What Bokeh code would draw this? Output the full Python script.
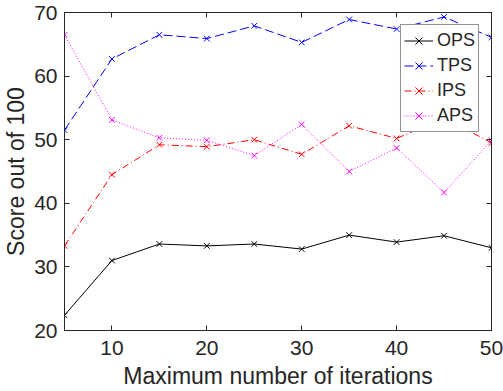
from bokeh.plotting import figure
from bokeh.models import Range1d, LinearAxis, FixedTicker, CustomJSTickFormatter
from bokeh.embed import file_html
from bokeh.resources import INLINE

iters = [5, 10, 15, 20, 25, 30, 35, 40, 45, 50]
ops = [22.4, 31.0, 33.6, 33.3, 33.6, 32.8, 35.0, 33.9, 34.9, 33.0]
tps = [51.5, 62.7, 66.5, 65.9, 67.9, 65.3, 68.9, 67.4, 69.3, 66.1]
ips = [33.3, 44.5, 49.2, 48.9, 50.0, 47.7, 52.2, 50.2, 53.4, 49.5]
aps = [66.5, 53.1, 50.3, 49.9, 47.5, 52.4, 45.0, 48.7, 41.7, 49.9]

x_ticks = [10, 20, 30, 40, 50]
y_ticks = [20, 30, 40, 50, 60, 70]

FONT = "Liberation Sans"
TXT = "#262626"

p = figure(width=503, height=391, x_range=Range1d(5, 50), y_range=Range1d(20, 70),
           output_backend="svg", toolbar_location=None,
           min_border_left=58, min_border_right=12, min_border_top=12, min_border_bottom=61)
p.background_fill_color = "white"
p.border_fill_color = "white"
p.outline_line_color = TXT
p.xgrid.visible = False
p.ygrid.visible = False

series = [
    ("OPS", ops, "#000000", "solid"),
    ("TPS", tps, "#0000FF", "9 4"),
    ("IPS", ips, "#FF0000", "7 3 1 3"),
    ("APS", aps, "#FF00FF", "1 2"),
]
for name, vals, col, dash in series:
    p.line(iters, vals, line_color=col, line_width=1, line_dash=dash, legend_label=name)
    p.scatter(iters, vals, marker="x", size=8, line_color=col, line_width=1, legend_label=name)

def style_axis(ax, ticks, labels=True):
    ax.ticker = FixedTicker(ticks=ticks)
    ax.major_tick_in = 5
    ax.major_tick_out = 0
    ax.minor_tick_in = 0
    ax.minor_tick_out = 0
    ax.axis_line_color = TXT
    ax.major_tick_line_color = TXT
    ax.major_label_text_font = FONT
    ax.major_label_text_color = TXT
    ax.major_label_text_font_size = "21px"
    if not labels:
        ax.formatter = CustomJSTickFormatter(code="return ''")
        ax.major_label_standoff = 0

style_axis(p.xaxis[0], x_ticks)
style_axis(p.yaxis[0], y_ticks)
p.xaxis[0].major_label_standoff = 10
p.yaxis[0].major_label_standoff = 7
for ax, lbl in ((p.xaxis[0], "Maximum number of iterations"), (p.yaxis[0], "Score out of 100")):
    ax.axis_label = lbl
    ax.axis_label_text_font = FONT
    ax.axis_label_text_font_size = "23px"
    ax.axis_label_text_font_style = "normal"
    ax.axis_label_text_color = TXT
    ax.axis_label_standoff = 2
p.xaxis[0].axis_label_standoff = 5

top = LinearAxis()
style_axis(top, x_ticks, labels=False)
p.add_layout(top, "above")
right = LinearAxis()
style_axis(right, y_ticks, labels=False)
p.add_layout(right, "right")

lg = p.legend[0]
lg.location = "top_right"
lg.margin = 12
lg.padding = 3
lg.spacing = 0
lg.glyph_width = 29
lg.glyph_height = 25
lg.label_height = 25
lg.label_standoff = 4
lg.label_text_font = FONT
lg.label_text_font_size = "18px"
lg.label_text_color = TXT
lg.border_line_color = TXT
lg.border_line_width = 1
lg.background_fill_color = "white"
lg.background_fill_alpha = 1.0

open("out.html", "w").write(file_html(p, INLINE))
